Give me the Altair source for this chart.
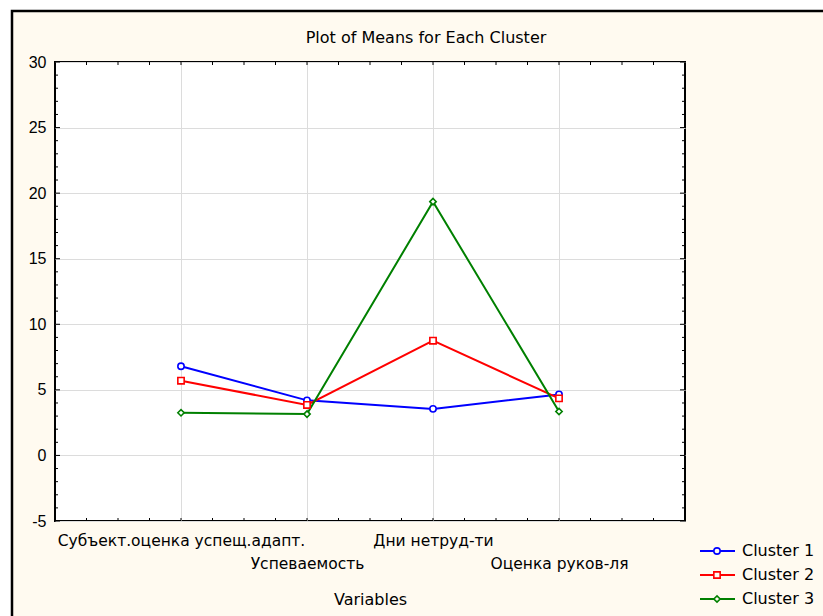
import json
import altair as alt
import pandas as pd

# Variables (x categories) and cluster means
variables = ["Субъект.оценка успещ.адапт.", "Успеваемость", "Дни нетруд-ти", "Оценка руков-ля"]
clusters = ["Cluster 1", "Cluster 2", "Cluster 3"]
cluster1 = [6.8, 4.2, 3.55, 4.65]
cluster2 = [5.7, 3.85, 8.75, 4.35]
cluster3 = [3.25, 3.15, 19.35, 3.35]
colors = ["#0000FF", "#FF0000", "#008000"]
shapes = ["circle", "square", "diamond"]
chart_title = "Plot of Means for Each Cluster"

y_major = [-5, 0, 5, 10, 15, 20, 25, 30]
y_minor = list(range(-5, 31))
x_minor = [i / 4 for i in range(0, 21)]

W, H = 630, 459
FONT = "Liberation Sans"
WIDE = "DejaVu Sans"
BEIGE = "#FFFAF0"

rows = []
for name, vals in zip(clusters, [cluster1, cluster2, cluster3]):
    for i, (var, v) in enumerate(zip(variables, vals)):
        rows.append({"cluster": name, "pos": i + 1, "variable": var, "mean": v})
df = pd.DataFrame(rows)

x_scale = alt.Scale(domain=[0, len(variables) + 1], nice=False, zero=False)
y_scale = alt.Scale(domain=[-5, 30], nice=False, zero=False)
color_scale = alt.Scale(domain=clusters, range=colors)
shape_scale = alt.Scale(domain=clusters, range=shapes)

# staggered category labels: even positions drop to a second line
names_js = json.dumps(variables, ensure_ascii=False)
label_expr = (
    f"datum.value % 2 == 0 ? ['', {names_js}[datum.value - 1]] : {names_js}[datum.value - 1]"
)

x_axis = alt.Axis(
    values=[1, 2, 3, 4], labelExpr=label_expr, grid=True, ticks=False, domain=False,
    title="Variables", labelPadding=12, labelLineHeight=23, titlePadding=20,
    labelOverlap=False, labelLimit=0, labelFontSize=15.5, labelFont=WIDE, titleFont=WIDE,
)
y_axis = alt.Axis(
    values=y_major, grid=True, ticks=False, domain=False, title=None, labelPadding=9,
    labelExpr="datum.value + ''", labelFontSize=16, labelFont=FONT,
)


def X(field="pos"):
    return alt.X(f"{field}:Q", scale=x_scale, axis=x_axis)


def Y(field="mean"):
    return alt.Y(f"{field}:Q", scale=y_scale, axis=y_axis)


one = pd.DataFrame({"title": [chart_title]})

# white page strip outside the beige frame, and the frame itself
strip_top = alt.Chart(one).mark_rect(color="white").encode(
    x=alt.value(-55), x2=alt.value(823 - 55), y=alt.value(-62), y2=alt.value(-51)
)
strip_left = alt.Chart(one).mark_rect(color="white").encode(
    x=alt.value(-55), x2=alt.value(-43), y=alt.value(-62), y2=alt.value(616 - 62)
)
frame = alt.Chart(one).mark_rect(fill=None, stroke="black", strokeWidth=2.5).encode(
    x=alt.value(-43), x2=alt.value(800), y=alt.value(-51), y2=alt.value(600)
)
title = alt.Chart(one).mark_text(
    font=WIDE, fontSize=16, color="black", align="center", baseline="middle"
).encode(x=alt.value(371), y=alt.value(-24), text="title:N")

# inward tick marks on all four sides
ydf_minor = pd.DataFrame({"mean": [v for v in y_minor if v % 5 != 0]})
ydf_major = pd.DataFrame({"mean": y_major})
xdf = pd.DataFrame({"pos": x_minor})
tick_style = dict(color="black", strokeWidth=1)
ticks = [
    alt.Chart(ydf_minor).mark_rule(**tick_style).encode(y=Y(), x=alt.value(0), x2=alt.value(3)),
    alt.Chart(ydf_minor).mark_rule(**tick_style).encode(y=Y(), x=alt.value(W), x2=alt.value(W - 3)),
    alt.Chart(ydf_major).mark_rule(**tick_style).encode(y=Y(), x=alt.value(0), x2=alt.value(5)),
    alt.Chart(ydf_major).mark_rule(**tick_style).encode(y=Y(), x=alt.value(W), x2=alt.value(W - 5)),
    alt.Chart(xdf).mark_rule(**tick_style).encode(x=X(), y=alt.value(0), y2=alt.value(3)),
    alt.Chart(xdf).mark_rule(**tick_style).encode(x=X(), y=alt.value(H), y2=alt.value(H - 3)),
]

lines = alt.Chart(df).mark_line(strokeWidth=2).encode(
    x=X(), y=Y(),
    color=alt.Color("cluster:N", scale=color_scale, legend=None),
    detail="cluster:N", order="pos:Q",
)
points = alt.Chart(df).mark_point(filled=False, fill="white", strokeWidth=1.6, size=40, opacity=1).encode(
    x=X(), y=Y(),
    color=alt.Color("cluster:N", scale=color_scale, legend=None),
    shape=alt.Shape("cluster:N", scale=shape_scale, legend=None),
)

main = alt.layer(strip_top, strip_left, frame, title, *ticks, lines, points)

# legend: one row per series, rows placed by a linear scale on the row index
leg_df = pd.DataFrame({"cluster": clusters, "row": list(range(len(clusters)))})
leg_y = alt.Y("row:Q", scale=alt.Scale(domain=[0, len(clusters) - 1], range=[489, 537], nice=False, zero=False), axis=None)
leg_line = alt.Chart(leg_df).mark_rule(strokeWidth=2).encode(
    y=leg_y, x=alt.value(645), x2=alt.value(680),
    color=alt.Color("cluster:N", scale=color_scale, legend=None),
)
leg_mark = alt.Chart(leg_df).mark_point(filled=False, fill=BEIGE, strokeWidth=1.6, size=40, opacity=1).encode(
    y=leg_y, x=alt.value(662),
    color=alt.Color("cluster:N", scale=color_scale, legend=None),
    shape=alt.Shape("cluster:N", scale=shape_scale, legend=None),
)
leg_text = alt.Chart(leg_df).mark_text(
    align="left", baseline="middle", font=WIDE, fontSize=16, color="black"
).encode(y=leg_y, x=alt.value(687), text="cluster:N")
legend = alt.layer(leg_line, leg_mark, leg_text)

chart = alt.layer(main, legend).resolve_scale(y="independent").properties(
    width=W, height=H,
    padding={"left": 55, "top": 62, "right": 823 - 55 - W, "bottom": 616 - 62 - H},
    autosize=alt.AutoSizeParams(type="none"),
).configure(
    background=BEIGE,
).configure_view(
    fill="white", stroke="black", strokeWidth=2,
).configure_axis(
    labelColor="black",
    titleFontSize=16, titleFontWeight="normal", titleColor="black",
    gridColor="#DCDCDC", gridWidth=1, gridOpacity=1,
)

chart.save("out.html", embed_options={"renderer": "svg", "actions": False})
